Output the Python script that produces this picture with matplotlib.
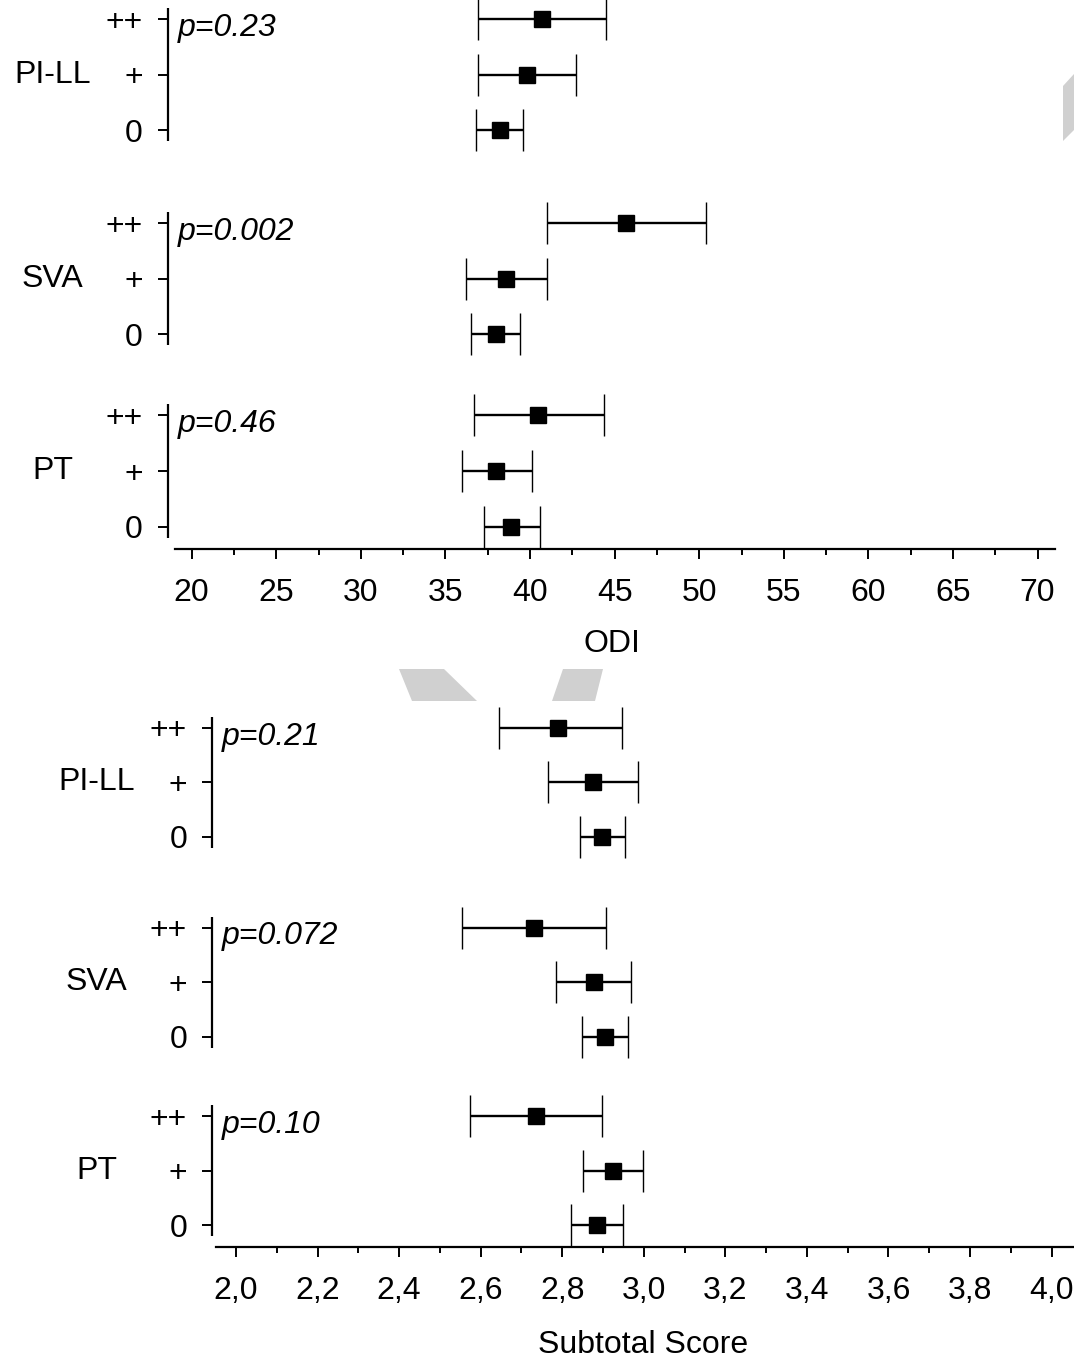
import matplotlib
matplotlib.use('Agg')
import matplotlib.pyplot as plt
from matplotlib.patches import Polygon
from matplotlib.ticker import MultipleLocator, FuncFormatter

plt.rcParams['font.family'] = ['Liberation Sans', 'DejaVu Sans']
plt.rcParams['font.size'] = 23

groups = ['PI-LL', 'SVA', 'PT']
levels = ['++', '+', '0']

# ODI: mean and CI per group (rows ++, +, 0)
odi_mean = [[40.7, 39.8, 38.2], [45.7, 38.6, 38.0], [40.5, 38.0, 38.9]]
odi_lo = [[36.9, 36.9, 36.8], [41.0, 36.2, 36.5], [36.7, 36.0, 37.3]]
odi_hi = [[44.5, 42.7, 39.6], [50.4, 41.0, 39.4], [44.4, 40.1, 40.6]]
odi_p = ['p=0.23', 'p=0.002', 'p=0.46']

# Subtotal score
sub_mean = [[2.79, 2.875, 2.897], [2.73, 2.877, 2.904], [2.735, 2.924, 2.886]]
sub_lo = [[2.645, 2.765, 2.843], [2.554, 2.784, 2.848], [2.574, 2.85, 2.821]]
sub_hi = [[2.946, 2.985, 2.953], [2.907, 2.968, 2.961], [2.897, 2.998, 2.949]]
sub_p = ['p=0.21', 'p=0.072', 'p=0.10']

group_off = [0, 3.67, 7.13]

W, H = 1074, 1361
fig = plt.figure(figsize=(W / 100, H / 100), dpi=100)


def px_axes(left, top, right, bottom):
    return fig.add_axes([left / W, 1 - bottom / H, (right - left) / W, (bottom - top) / H])


def panel(ax, mean, lo, hi, pvals, xlim, spine_lo, spine_hi, major, minor, fmt, xlabel, labelpad, ylim):
    yt, yl = [], []
    for g in range(3):
        for r in range(3):
            y = group_off[g] + r
            m = mean[g][r]
            ax.errorbar([m], [y], xerr=[[m - lo[g][r]], [hi[g][r] - m]], fmt='s', color='black',
                        ms=11, mew=1, elinewidth=1.7, capsize=15, capthick=1.7)
            yt.append(y)
            yl.append(levels[r])
        y0 = group_off[g]
        ax.plot([0, 0], [y0 - 0.2, y0 + 2.2], color='black', lw=1.6,
                transform=ax.get_yaxis_transform(), clip_on=False, solid_capstyle='butt')
        ax.annotate(groups[g], xy=(0, y0 + 1), xycoords=ax.get_yaxis_transform(),
                    xytext=(-83, 0), textcoords='offset points', ha='center', va='center')
        ax.annotate(pvals[g], xy=(0, y0), xycoords=ax.get_yaxis_transform(),
                    xytext=(7, -12), textcoords='offset points', ha='left', va='baseline',
                    style='italic')
    ax.set_yticks(yt)
    ax.set_yticklabels(yl)
    ax.set_ylim(ylim)
    ax.set_xlim(xlim)
    for s in ['left', 'top', 'right']:
        ax.spines[s].set_visible(False)
    ax.spines['bottom'].set_linewidth(1.6)
    ax.spines['bottom'].set_bounds(spine_lo, spine_hi)
    ax.xaxis.set_major_locator(MultipleLocator(major))
    ax.xaxis.set_minor_locator(MultipleLocator(minor))
    ax.xaxis.set_major_formatter(fmt)
    ax.tick_params(axis='x', which='major', length=7, width=1.4, pad=14)
    ax.tick_params(axis='x', which='minor', length=4.5, width=1.4)
    ax.tick_params(axis='y', length=7, width=1.4, pad=11)
    ax.set_xlabel(xlabel, labelpad=labelpad)


ax1 = px_axes(168, 0, 1055, 549)
panel(ax1, odi_mean, odi_lo, odi_hi, odi_p, (18.6, 71.03), 19.0, 71.03, 5, 2.5,
      FuncFormatter(lambda v, _: f'{v:.0f}'), 'ODI', 15, (9.532, -0.342))

ax2 = px_axes(212, 700, 1074, 1247)
panel(ax2, sub_mean, sub_lo, sub_hi, sub_p, (1.941, 4.055), 1.951, 4.055, 0.2, 0.1,
      FuncFormatter(lambda v, _: f'{v:.1f}'.replace('.', ',')), 'Subtotal Score', 17,
      (9.533, -0.514))

# faint grey watermark pieces
wm = [
    [(399, 669), (444, 669), (477, 701), (412, 701)],
    [(563, 669), (603, 669), (595, 701), (552, 701)],
    [(1063, 86), (1074, 74), (1074, 130), (1063, 141)],
]
for pts in wm:
    fig.patches.append(Polygon([(x / W, 1 - y / H) for x, y in pts], closed=True,
                               transform=fig.transFigure, facecolor='#d0d0d0',
                               edgecolor='none', zorder=0))

fig.savefig('out.png', dpi=100)
